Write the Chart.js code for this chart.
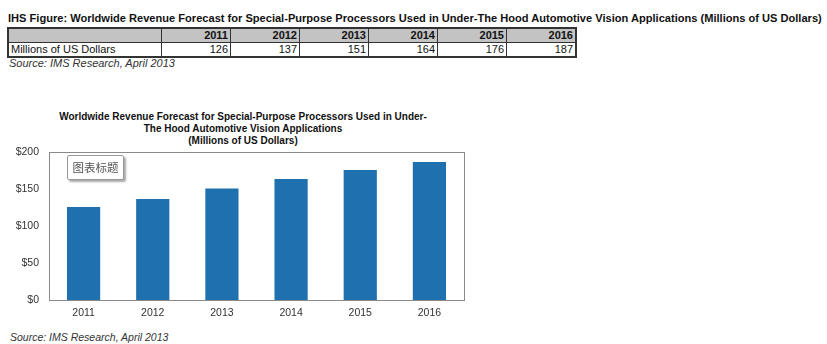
<!DOCTYPE html>
<html>
<head>
<meta charset="utf-8">
<script src="https://cdn.jsdelivr.net/npm/chart.js@4"></script>
<style>
  body{margin:0;width:827px;height:344px;background:#fff;position:relative;overflow:hidden;font-family:"Liberation Sans",Arial,sans-serif;color:#111}
  #head{position:absolute;left:8px;top:12px;font-weight:bold;font-size:11.5px;white-space:nowrap;transform-origin:0 0}
  table{position:absolute;left:7px;top:27px;border-collapse:collapse;font-size:11px;border:2px solid #333}
  td{border:1px solid #333;padding:0 2px;height:13px;line-height:13px;text-align:right;width:64px}
  td.lab{text-align:left;width:148px}
  tr.hd td{background:#c3c3c3;font-weight:bold}
  .src{position:absolute;font-style:italic;font-size:11px;color:#333}
  #ctitle{position:absolute;left:43px;width:400px;top:111px;text-align:center;font-weight:bold;font-size:10px;line-height:12px;white-space:nowrap}
  #wrap{position:absolute;left:0;top:136px;width:480px;height:189px}
  #tag{position:absolute;left:67px;top:155px;width:55px;height:23px;border:1px solid #999;border-radius:2px;background:#fff;box-shadow:2px 2px 2px #aaa;font-family:"Noto Sans CJK SC",sans-serif;font-size:11.5px;color:#555;text-align:center;line-height:23px}
</style>
</head>
<body>
<div id="head">IHS Figure: Worldwide Revenue Forecast for Special-Purpose Processors Used in Under-The Hood Automotive Vision Applications (Millions of US Dollars)</div>
<table id="tbl"></table>
<div class="src" style="left:9px;top:57px">Source: IMS Research, April 2013</div>
<div id="ctitle"></div>
<div id="wrap"><canvas id="c"></canvas></div>
<div id="tag">图表标题</div>
<div class="src" style="left:10px;top:331px;font-size:10.5px">Source: IMS Research, April 2013</div>
<script>
const years = ['2011','2012','2013','2014','2015','2016']
const revenue = [126,137,151,164,176,187]
const rowLabel = 'Millions of US Dollars'
const chartTitle = ['Worldwide Revenue Forecast for Special-Purpose Processors Used in Under-','The Hood Automotive Vision Applications','(Millions of US Dollars)']

// stretch/squeeze the heading to the width it has in the picture
const head = document.getElementById('head')
head.style.transform = 'scaleX(' + (814/head.offsetWidth) + ')'

const tbl = document.getElementById('tbl')
tbl.innerHTML = '<tr class="hd"><td class="lab"></td>' + years.map(y=>'<td>'+y+'</td>').join('') + '</tr>' +
  '<tr><td class="lab">' + rowLabel + '</td>' + revenue.map(v=>'<td>'+v+'</td>').join('') + '</tr>'

// chart title sits off-centre in the picture, so it is plain text above the canvas
document.getElementById('ctitle').innerHTML = chartTitle.join('<br>')

const boxPlugin = {
  id:'box',
  afterDraw(chart){
    const a = chart.chartArea, ctx = chart.ctx
    ctx.save()
    ctx.strokeStyle = '#8a8a8a'
    ctx.lineWidth = 1
    ctx.strokeRect(Math.round(a.left)+0.5, Math.round(a.top)+0.5, Math.round(a.right-a.left), Math.round(a.bottom-a.top))
    ctx.restore()
  }
}

new Chart(document.getElementById('c'), {
  type:'bar',
  data:{labels:years, datasets:[{data:revenue, backgroundColor:'#1f70ae', categoryPercentage:1, barPercentage:0.48}]},
  options:{
    responsive:true, maintainAspectRatio:false, animation:false,
    layout:{padding:{left:0,right:16,top:12,bottom:0}},
    plugins:{legend:{display:false}, tooltip:{enabled:false}},
    scales:{
      x:{grid:{display:false, drawTicks:false}, border:{color:'#8a8a8a'}, ticks:{color:'#333', font:{family:'"Liberation Sans",Arial', size:10.5}, padding:6}},
      y:{min:0, max:200, grid:{display:false, drawTicks:false}, border:{color:'#8a8a8a'},
         afterFit(s){ s.width = 49 },
         ticks:{stepSize:50, color:'#333', font:{family:'"Liberation Sans",Arial', size:10.5}, padding:10, callback:v=>'$'+v}}
    }
  },
  plugins:[boxPlugin]
})
</script>
</body>
</html>
